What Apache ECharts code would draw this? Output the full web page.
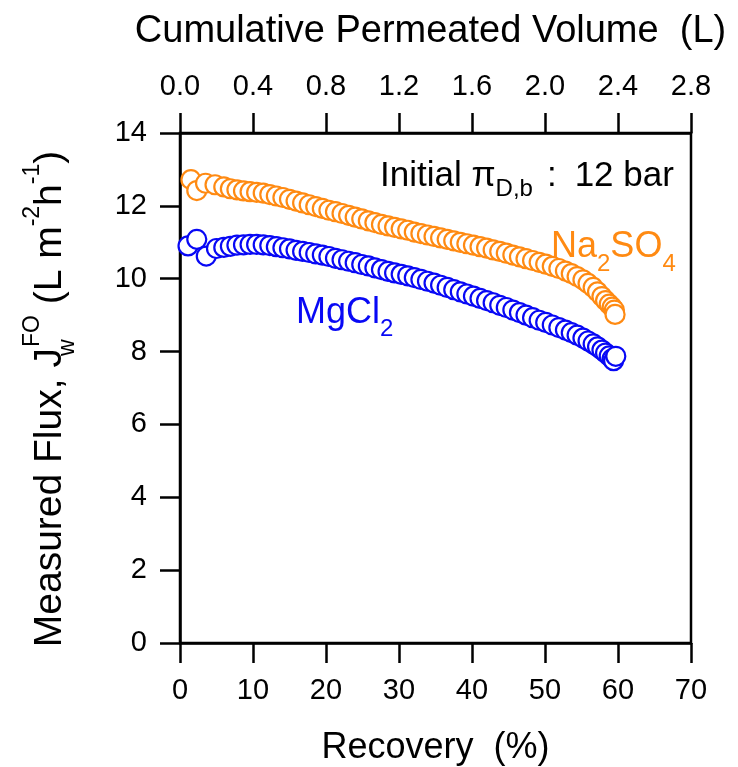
<!DOCTYPE html>
<html>
<head>
<meta charset="utf-8">
<script src="https://cdn.jsdelivr.net/npm/echarts@6/dist/echarts.min.js"></script>
<style>
  html, body { margin: 0; padding: 0; background: #fff; }
  #chart { width: 738px; height: 767px; }
</style>
</head>
<body>
<div id="chart"></div>
<script>
// recovery (%) and measured flux (L m-2 h-1)
const na2so4Recovery = [1.5, 2.3, 3.5, 4.8, 6.0, 6.9, 7.8, 8.7, 9.6, 10.5, 11.4, 12.3, 13.2, 14.1, 15.0, 15.9, 16.8, 17.7, 18.6, 19.5, 20.4, 21.3, 22.2, 23.1, 24.0, 24.9, 25.8, 26.7, 27.6, 28.5, 29.4, 30.3, 31.2, 32.1, 33.0, 33.9, 34.8, 35.7, 36.6, 37.5, 38.4, 39.3, 40.2, 41.1, 42.0, 42.9, 43.8, 44.7, 45.6, 46.5, 47.4, 48.3, 49.2, 50.1, 51.0, 51.9, 52.8, 53.6, 54.4, 55.2, 55.9, 56.6, 57.2, 57.8, 58.3, 58.8, 59.2, 59.5, 59.6];
const na2so4Flux = [12.72, 12.42, 12.62, 12.58, 12.52, 12.47, 12.44, 12.41, 12.39, 12.37, 12.35, 12.31, 12.27, 12.23, 12.18, 12.13, 12.08, 12.03, 11.98, 11.93, 11.88, 11.84, 11.79, 11.74, 11.69, 11.64, 11.59, 11.54, 11.49, 11.45, 11.41, 11.37, 11.33, 11.28, 11.24, 11.20, 11.16, 11.12, 11.08, 11.04, 11.00, 10.96, 10.92, 10.88, 10.84, 10.79, 10.75, 10.70, 10.65, 10.60, 10.55, 10.50, 10.45, 10.40, 10.34, 10.28, 10.21, 10.14, 10.06, 9.97, 9.87, 9.76, 9.64, 9.51, 9.40, 9.30, 9.22, 9.14, 9.02];

const mgcl2Recovery = [1.1, 2.3, 3.6, 5.0, 6.0, 6.9, 7.8, 8.7, 9.6, 10.5, 11.4, 12.3, 13.2, 14.1, 15.0, 15.9, 16.8, 17.7, 18.6, 19.5, 20.4, 21.3, 22.2, 23.1, 24.0, 24.9, 25.8, 26.7, 27.6, 28.5, 29.4, 30.3, 31.2, 32.1, 33.0, 33.9, 34.8, 35.7, 36.6, 37.5, 38.4, 39.3, 40.2, 41.1, 42.0, 42.9, 43.8, 44.7, 45.6, 46.5, 47.4, 48.3, 49.2, 50.1, 51.0, 51.9, 52.8, 53.6, 54.4, 55.2, 55.9, 56.6, 57.2, 57.8, 58.3, 58.8, 59.2, 59.4, 59.7];
const mgcl2Flux = [10.90, 11.08, 10.62, 10.83, 10.86, 10.89, 10.92, 10.93, 10.94, 10.94, 10.93, 10.91, 10.88, 10.85, 10.82, 10.78, 10.75, 10.72, 10.68, 10.65, 10.61, 10.56, 10.52, 10.48, 10.44, 10.39, 10.35, 10.30, 10.25, 10.20, 10.16, 10.12, 10.08, 10.03, 9.98, 9.93, 9.88, 9.82, 9.76, 9.70, 9.64, 9.58, 9.52, 9.46, 9.40, 9.34, 9.27, 9.21, 9.14, 9.07, 9.00, 8.93, 8.86, 8.80, 8.73, 8.66, 8.59, 8.52, 8.45, 8.37, 8.29, 8.21, 8.13, 8.04, 7.96, 7.88, 7.80, 7.75, 7.87];

const ORANGE = '#ff8a12';
const BLUE = '#0808f5';
const FONT = '"Liberation Sans", Arial, Helvetica, sans-serif';

const pairs = (xs, ys) => xs.map((x, i) => [x, ys[i]]);

const axisCommon = {
  axisLine: { show: true, onZero: false, lineStyle: { color: '#000', width: 2.5 } },
  axisTick: { show: true, inside: false, length: 20, lineStyle: { color: '#000', width: 2.5 } },
  axisLabel: { color: '#000', fontSize: 29, fontFamily: FONT, margin: 33 },
  splitLine: { show: false }
};

const chart = echarts.init(document.getElementById('chart'));

const option = {
  animation: false,
  backgroundColor: '#fff',
  grid: {
    left: 180,
    top: 133,
    width: 511,
    height: 510,
    show: true,
    borderColor: '#000',
    borderWidth: 2.5,
    outerBoundsMode: 'none'
  },
  xAxis: [
    {
      ...axisCommon,
      type: 'value',
      position: 'bottom',
      min: 0,
      max: 70,
      interval: 10,
      name: 'Recovery  (%)',
      nameLocation: 'middle',
      nameGap: 87,
      nameTextStyle: { color: '#000', fontSize: 36, fontFamily: FONT }
    },
    {
      ...axisCommon,
      type: 'value',
      position: 'top',
      min: 0,
      max: 2.8,
      interval: 0.4,
      axisLabel: { ...axisCommon.axisLabel, margin: 32, formatter: v => v.toFixed(1) },
      name: 'Cumulative Permeated Volume  (L)',
      nameLocation: 'middle',
      nameGap: 82,
      nameTextStyle: { color: '#000', fontSize: 38, fontFamily: FONT, padding: [0, 10, 0, 0] }
    }
  ],
  yAxis: {
    ...axisCommon,
    type: 'value',
    min: 0,
    max: 14,
    interval: 2
  },
  series: [
    {
      name: 'Na2SO4',
      type: 'scatter',
      xAxisIndex: 0,
      symbol: 'circle',
      symbolSize: 19,
      itemStyle: { color: '#fff', borderColor: ORANGE, borderWidth: 2.2, opacity: 1 },
      data: pairs(na2so4Recovery, na2so4Flux)
    },
    {
      name: 'MgCl2',
      type: 'scatter',
      xAxisIndex: 0,
      symbol: 'circle',
      symbolSize: 19,
      itemStyle: { color: '#fff', borderColor: BLUE, borderWidth: 2.2, opacity: 1 },
      data: pairs(mgcl2Recovery, mgcl2Flux)
    }
  ],
  graphic: [
    {
      type: 'text',
      x: 50,
      y: 399,
      rotation: Math.PI / 2,
      style: {
        text: 'Measured Flux, J{w|w}{sup|FO}{n| (L m}{sup|-2}{n|h}{sup|-1}{n|)}',
        fontSize: 39,
        fontFamily: FONT,
        fill: '#000',
        align: 'center',
        verticalAlign: 'middle',
        lineHeight: 58,
        rich: {
          n: { fontSize: 39, fontFamily: FONT, fill: '#000', lineHeight: 58 },
          w: { fontSize: 23, fontFamily: FONT, fill: '#000', lineHeight: 23, verticalAlign: 'bottom', width: 1 },
          sup: { fontSize: 23, fontFamily: FONT, fill: '#000', lineHeight: 23, verticalAlign: 'top' }
        }
      }
    },
    {
      type: 'text',
      x: 380,
      y: 176,
      style: {
        text: 'Initial π{sub|D,b}{c|:}12 bar',
        fontSize: 35,
        fontFamily: FONT,
        fill: '#000',
        align: 'left',
        verticalAlign: 'middle',
        lineHeight: 50,
        rich: {
          sub: { fontSize: 24, fontFamily: FONT, fill: '#000', lineHeight: 24, verticalAlign: 'bottom' },
          c: { fontSize: 35, fontFamily: FONT, fill: '#000', lineHeight: 50, padding: [0, 18, 0, 14] }
        }
      }
    },
    {
      type: 'text',
      x: 551,
      y: 247,
      style: {
        text: 'Na{sub|2}SO{sub|4}',
        fontSize: 36,
        fontFamily: FONT,
        fill: ORANGE,
        align: 'left',
        verticalAlign: 'middle',
        lineHeight: 58,
        rich: {
          sub: { fontSize: 24, fontFamily: FONT, fill: ORANGE, lineHeight: 24, verticalAlign: 'bottom' }
        }
      }
    },
    {
      type: 'text',
      x: 296,
      y: 313,
      style: {
        text: 'MgCl{sub|2}',
        fontSize: 36,
        fontFamily: FONT,
        fill: BLUE,
        align: 'left',
        verticalAlign: 'middle',
        lineHeight: 56,
        rich: {
          sub: { fontSize: 24, fontFamily: FONT, fill: BLUE, lineHeight: 24, verticalAlign: 'bottom' }
        }
      }
    }
  ]
};

chart.setOption(option);
</script>
</body>
</html>
